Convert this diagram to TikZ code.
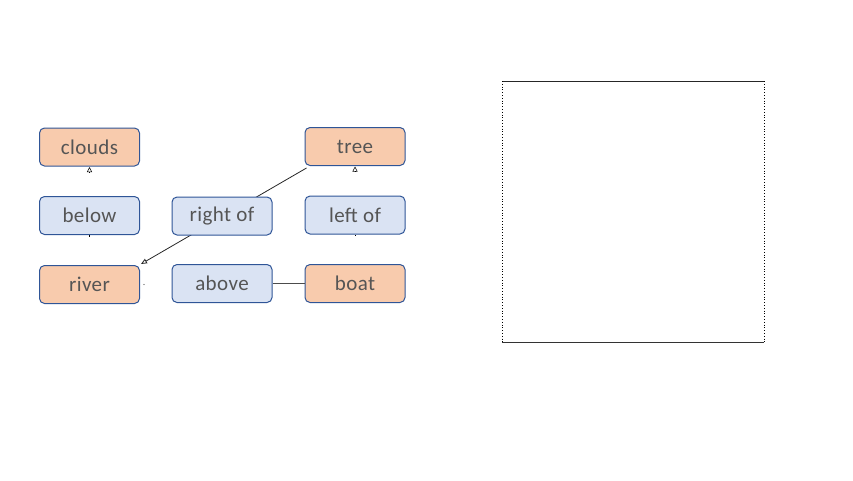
\documentclass[tikz,border=0pt]{standalone}
\usepackage{fontspec}
\setmainfont{Carlito}[LetterSpace=2]
\usetikzlibrary{arrows.meta,backgrounds}
\definecolor{orfill}{HTML}{F8CBAD}
\definecolor{blfill}{HTML}{DAE3F3}
\definecolor{bdr}{HTML}{2F5597}
\definecolor{txt}{HTML}{555555}
\tikzset{
  box/.style={draw=bdr, line width=1pt, rounded corners=5pt, minimum width=100pt, minimum height=38pt, inner sep=0pt, font=\fontsize{21}{21}\selectfont, text=txt},
  obox/.style={box, fill=orfill},
  bbox/.style={box, fill=blfill},
  conn/.style={draw=black!85, line width=0.8pt},
  tip/.style={-{Triangle[open,length=5pt,width=5pt]}, line width=0.5pt},
}
\begin{document}
\begin{tikzpicture}[x=1pt,y=-1pt]
\useasboundingbox (0,0) rectangle (853,480);
\node[obox] (clouds) at (89.5,147) {clouds};
\node[bbox] (below) at (89.5,215.5) {below};
\node[obox] (river) at (89.5,284.5) {river};
\node[bbox] (rightof) at (222,216) {right of};
\node[bbox] (above) at (222,283.5) {above};
\node[obox] (tree) at (355,146.5) {tree};
\node[bbox] (leftof) at (355,215) {left of};
\node[obox] (boat) at (355,283.5) {boat};
\begin{scope}[on background layer]
\draw[conn, -{Triangle[open,length=6pt,width=5pt]}] ([xshift=2pt,yshift=-2pt]tree.south west) -- ([xshift=1pt,yshift=1pt]river.north east);
\end{scope}
\draw[conn, draw=black!70, line width=1pt] (above.east) -- (boat.west);
\draw[tip] ([yshift=-5.5pt]clouds.south) -- ([yshift=-0.5pt]clouds.south);
\draw[tip] ([yshift=-5.5pt]tree.south) -- ([yshift=-0.5pt]tree.south);
\fill[black] ([xshift=-0.5pt]below.south) rectangle ++(1,1.5);
\fill[black] ([xshift=-0.5pt]leftof.south) rectangle ++(1,1.5);
\coordinate (rdot) at ([xshift=4pt]river.east);
\fill[black!70] (rdot) circle (0.6pt);
\coordinate (sqA) at (502,81);
\coordinate (sqB) at (764,81);
\coordinate (sqC) at (764,342);
\coordinate (sqD) at (502,342);
\draw[line width=0.8pt, black!85] (sqA) -- (sqB);
\draw[line width=1pt, black!80] (sqD) -- (sqC);
\draw[line width=0.8pt, dotted] (sqB) -- (sqC);
\draw[line width=0.8pt, dotted] (sqA) -- (sqD);
\end{tikzpicture}
\end{document}
